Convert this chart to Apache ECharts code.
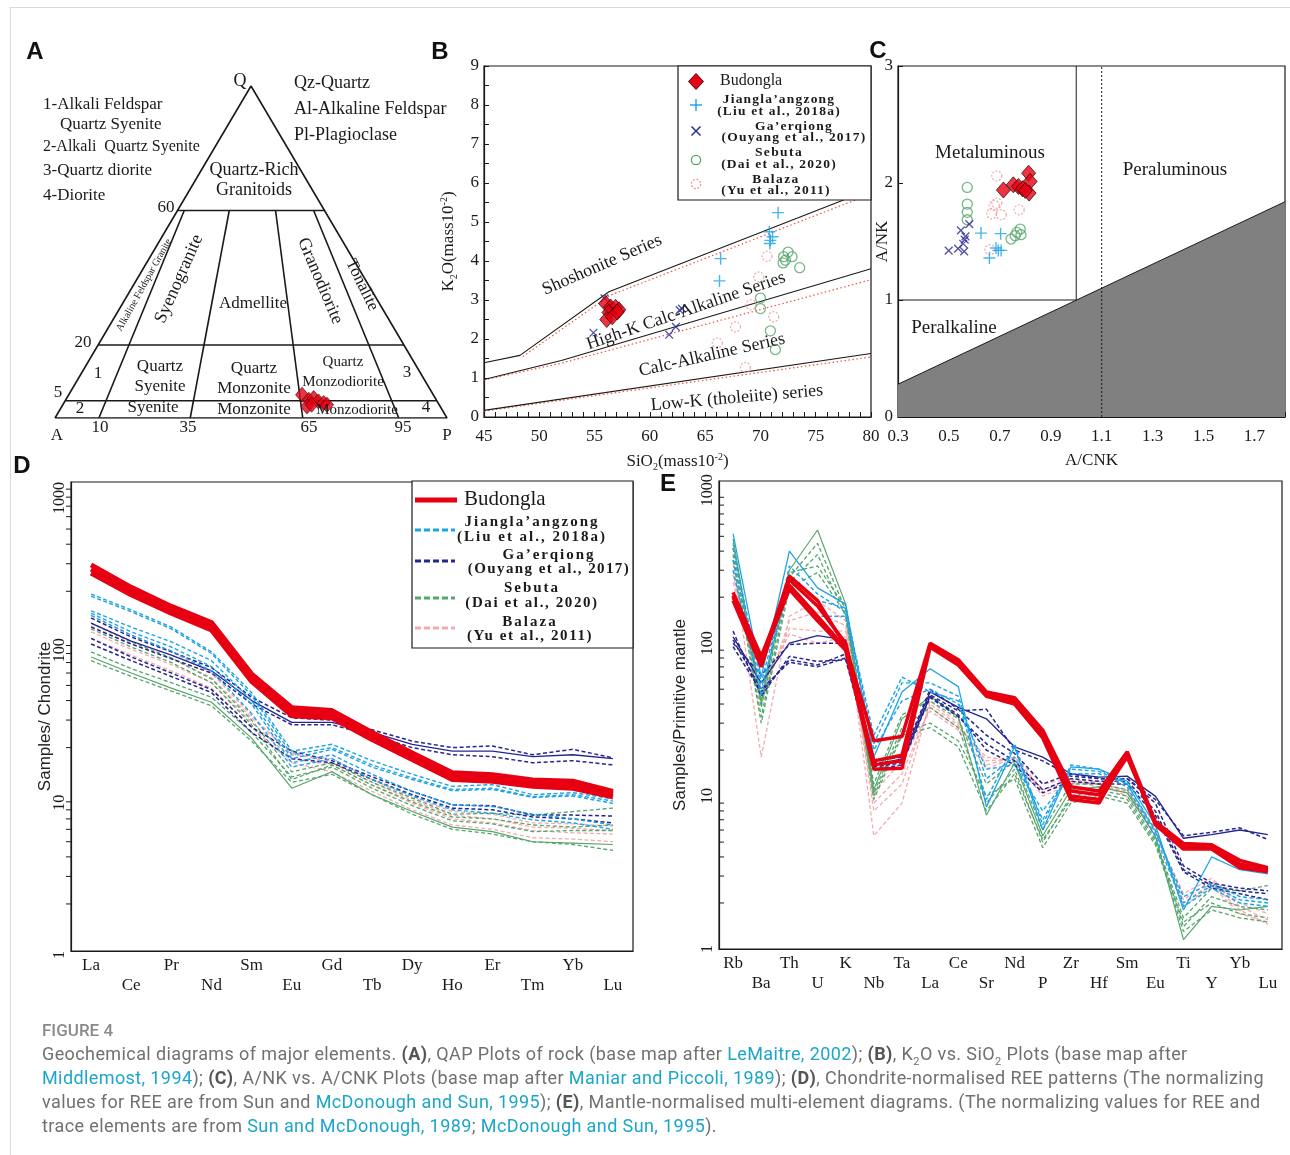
<!DOCTYPE html>
<html lang="en">
<head>
<meta charset="UTF-8">
<title>Figure 4</title>
<script src="https://cdn.jsdelivr.net/npm/echarts@6/dist/echarts.min.js"></script>
<style>
html, body { margin: 0; padding: 0; background: #fff; }
#main { position: absolute; left: 0; top: 0; width: 1290px; height: 1155px; }
#cap { position: absolute; left: 42px; top: 1018px; font-family: Roboto, "Noto Sans", sans-serif; color: #707070; white-space: nowrap; letter-spacing: 0.4px; }
#cap .fig { font-size: 17px; line-height: 24px; font-weight: 500; color: #8a8a8a; letter-spacing: 0; }
#cap .txt { font-size: 18px; line-height: 24px; }
#cap b { color: #555; }
#cap a { color: #1ba6c9; text-decoration: none; }
#cap sub { font-size: 11px; line-height: 0; }
#legtext { position: absolute; left: 0; top: 0; width: 1290px; height: 1155px; pointer-events: none; }
#legtext span { position: absolute; white-space: nowrap; transform: translate(-50%, -50%); font-family: "Liberation Serif", "Times New Roman", serif; font-weight: bold; color: #1a1a1a; line-height: 1; }
</style>
</head>
<body>
<div id="main"></div>
<div id="legtext"></div>
<div id="cap">
  <div class="fig">FIGURE 4</div>
  <div class="txt">Geochemical diagrams of major elements. <b>(A)</b>, QAP Plots of rock (base map after <a>LeMaitre, 2002</a>); <b>(B)</b>, K<sub>2</sub>O vs. SiO<sub>2</sub> Plots (base map after<br><a>Middlemost, 1994</a>); <b>(C)</b>, A/NK vs. A/CNK Plots (base map after <a>Maniar and Piccoli, 1989</a>); <b>(D)</b>, Chondrite-normalised REE patterns (The normalizing<br>values for REE are from Sun and <a>McDonough and Sun, 1995</a>); <b>(E)</b>, Mantle-normalised multi-element diagrams. (The normalizing values for REE and<br>trace elements are from <a>Sun and McDonough, 1989</a>; <a>McDonough and Sun, 1995</a>).</div>
</div>
<script type="text/javascript">
// ---------- A: QAP (Q %, P/(A+P) %) ----------
var qapLevels = [62.5, 22, 5.2];                       // drawn 60 / 20 / 5 lines
var qapDividers = [[4.6, 11.2], [35.2, 34.5], [66.7, 63.2], [92.6, 87.7]]; // P% at Q60 line, P% at base
var qapBudQ = [7.0, 5.5, 6.0, 5.0, 4.5, 3.5, 4.0, 4.0];
var qapBudP = [64.0, 65.6, 67.0, 68.1, 69.4, 64.8, 66.1, 70.2];

// ---------- B: K2O vs SiO2 ----------
var kUpper = [[45, 1.39], [48.25, 1.58], [56.3, 3.21], [80, 5.84]];
var kUpperRed = [[48.5, 1.55], [56.4, 3.12], [80, 5.72]];
var kMid = [[45, 0.96], [52, 1.45], [80, 3.8]];
var kMidRed = [[45, 0.95], [52, 1.38], [80, 3.52]];
var kLow = [[45, 0.17], [80, 1.63]];
var kLowRed = [[45, 0.15], [80, 1.54]];
var bBudongla = [[56.0, 2.91], [56.45, 2.82], [56.9, 2.81], [57.2, 2.75], [56.3, 2.68], [56.1, 2.50], [56.6, 2.57], [57.05, 2.69]];
var bJiangla = [[71.6, 5.24], [70.8, 4.75], [71.1, 4.62], [70.9, 4.53], [70.85, 4.45], [66.4, 4.06], [66.3, 3.49]];
var bGaerqiong = [[54.9, 2.16], [62.7, 2.74], [62.9, 2.78], [62.35, 2.31], [61.75, 2.11], [55.9, 3.04]];
var bSebuta = [[72.5, 4.23], [72.1, 4.11], [72.86, 4.11], [72.26, 4.02], [72.05, 3.95], [73.55, 3.83], [70.0, 3.05], [70.0, 2.78], [70.9, 2.21], [71.35, 1.73]];
var bBalaza = [[70.6, 4.12], [69.85, 3.59], [69.16, 2.88], [71.2, 2.57], [67.74, 2.31], [66.1, 1.90], [68.64, 1.27]];

// ---------- C: A/NK vs A/CNK ----------
var cShade = [[0.3, 0.28], [1.82, 1.84]];
var cBound = [[0.3, 1], [1.0, 1], [1.0, 3]];
var cDotted = [[1.1, 0], [1.1, 3]];
var cBudongla = [[0.714, 1.94], [0.753, 1.985], [0.773, 1.97], [0.789, 1.951], [0.813, 2.084], [0.819, 2.013], [0.815, 1.914], [0.80, 1.936]];
var cJiangla = [[0.626, 1.572], [0.703, 1.567], [0.685, 1.444], [0.694, 1.424], [0.705, 1.424], [0.659, 1.359]];
var cGaerqiong = [[0.499, 1.422], [0.536, 1.439], [0.56, 1.416], [0.562, 1.516], [0.565, 1.544], [0.547, 1.595], [0.58, 1.649], [0.556, 1.481]];
var cSebuta = [[0.572, 1.962], [0.572, 1.82], [0.572, 1.749], [0.572, 1.686], [0.744, 1.521], [0.76, 1.55], [0.78, 1.606], [0.783, 1.558], [0.767, 1.578]];
var cBalaza = [[0.688, 2.061], [0.688, 1.828], [0.678, 1.808], [0.668, 1.737], [0.705, 1.729], [0.776, 1.771], [0.661, 1.43]];

// ---------- D: chondrite-normalised REE ----------
var reeElements = ['La', 'Ce', 'Pr', 'Nd', 'Sm', 'Eu', 'Gd', 'Tb', 'Dy', 'Ho', 'Er', 'Tm', 'Yb', 'Lu'];
var dBudongla = [
  [295, 212, 160, 126, 59, 36, 34.5, 25, 18.5, 13.8, 13.4, 12.4, 12.2, 10.5],
  [277, 201, 153, 120, 56, 34, 32.6, 23.7, 17.6, 13.1, 12.8, 11.9, 11.7, 10.1],
  [262, 190, 145, 113, 53, 32, 31, 22.5, 16.8, 12.5, 12.2, 11.3, 11.0, 9.7]
];
var dJiangla = [
  [192, 152, 118, 82, 45, 19, 21, 16.5, 13.5, 11.3, 11.6, 10.0, 10.3, 9.4],
  [186, 148, 115, 80, 43, 18, 20, 15.5, 12.8, 10.8, 11.0, 9.7, 10.0, 9.1],
  [150, 118, 95, 72, 40, 17, 19.5, 15, 12.5, 10.6, 10.8, 9.6, 9.8, 8.8],
  [145, 110, 88, 66, 38, 16, 18, 13.5, 10.5, 8.6, 8.4, 7.5, 7.0, 6.4],
  [140, 105, 83, 62, 33, 15, 17, 12.5, 9.8, 8.0, 7.6, 6.9, 6.6, 6.0]
];
var dGaerqiong = [
  [135, 102, 82, 65, 42, 31, 30, 26, 22, 20, 20.5, 18, 19.5, 17.2],
  [125, 96, 78, 62, 40, 29, 29, 25, 21, 19, 19, 17.5, 18, 17],
  [118, 92, 74, 60, 38, 28, 28, 24, 20, 18, 17.5, 16, 16.5, 15.5],
  [100, 76, 60, 47, 27, 19, 16.5, 13, 10.5, 8.6, 8.5, 7.4, 7.4, 7.3],
  [92, 72, 57, 45, 25, 17, 16, 12.5, 10, 8.2, 8.0, 7.2, 7.0, 6.6]
];
var dSebuta = [
  [125, 95, 75, 55, 30, 14, 16, 12, 9.5, 7.5, 7.6, 7.4, 7.8, 8.2],
  [115, 88, 70, 52, 28, 12.5, 15.5, 11.5, 9, 7.2, 7, 6.4, 6.2, 6.4],
  [82, 64, 52, 42, 25, 13, 15, 11, 8.5, 6.8, 6.5, 5.8, 5.9, 5.9],
  [76, 60, 48, 39, 23, 11, 14, 10, 7.8, 6.2, 5.8, 5.0, 4.9, 4.8],
  [72, 57, 46, 37, 22, 12, 13.5, 10, 7.5, 6.0, 5.6, 5.0, 4.8, 4.4]
];
var dBalaza = [
  [140, 105, 82, 60, 32, 18, 17, 12.5, 9.6, 7.8, 7.5, 6.6, 6.5, 6.3],
  [120, 92, 74, 56, 31, 18.5, 16, 12, 9.2, 7.4, 7, 6.2, 6.1, 5.9],
  [110, 85, 68, 52, 29, 17, 15.5, 11.5, 8.8, 7.0, 6.6, 5.9, 5.7, 5.6],
  [100, 78, 62, 48, 27, 16, 14, 10.5, 8, 6.4, 6, 5.3, 5.2, 5.0]
];

// ---------- E: primitive-mantle-normalised ----------
var pmElements = ['Rb', 'Ba', 'Th', 'U', 'K', 'Nb', 'Ta', 'La', 'Ce', 'Sr', 'Nd', 'P', 'Zr', 'Hf', 'Sm', 'Eu', 'Ti', 'Y', 'Yb', 'Lu'];
var eBudongla = [
  [200, 75, 275, 190, 95, 23, 24.5, 100, 78, 48, 44, 27, 11.5, 10.8, 19.5, 6.8, 4.9, 4.8, 3.8, 3.4],
  [215, 82, 240, 150, 92, 17, 18.5, 96, 74, 46, 41, 25, 10.8, 10.2, 18.5, 6.6, 4.7, 4.6, 3.6, 3.3],
  [205, 78, 225, 140, 90, 15, 15.2, 94, 72, 45, 40, 24, 9.5, 9.0, 19, 6.5, 4.5, 4.5, 3.4, 3.2],
  [190, 70, 260, 175, 100, 16, 17, 98, 76, 47, 43, 26, 10, 9.5, 18, 6.7, 4.6, 4.7, 3.5, 3.3]
];
var eJiangla = [
  [520, 60, 400, 230, 180, 18, 48, 68, 52, 8.5, 21, 6, 15.5, 15, 12.5, 6.5, 1.8, 4.0, 3.3, 3.1],
  [420, 55, 280, 190, 170, 22, 55, 55, 45, 13, 18, 7, 15, 14.5, 12, 6, 2.0, 2.6, 2.1, 2.0],
  [350, 50, 240, 150, 150, 20, 42, 50, 40, 15, 16, 8, 14, 14, 11.5, 5.5, 1.9, 2.5, 2.0, 1.9],
  [300, 45, 320, 210, 160, 25, 60, 48, 42, 9.5, 22, 6.5, 16, 15, 12, 5.8, 2.2, 2.7, 2.2, 2.1]
];
var eGaerqiong = [
  [110, 55, 100, 112, 105, 16, 17.5, 48, 38, 32, 21, 18, 14, 13.3, 13.5, 10, 5.3, 5.6, 6.0, 5.6],
  [100, 62, 98, 100, 100, 15.5, 16.5, 46, 36, 37, 20, 17, 13.5, 13, 13, 9.5, 5.5, 5.8, 6.2, 5.2],
  [95, 48, 78, 72, 85, 16.5, 17, 44, 33, 22, 17, 11, 13, 12.5, 12.5, 8, 3.3, 2.6, 2.4, 2.3],
  [105, 50, 75, 70, 80, 15, 16, 45, 34, 20, 16, 10.5, 12.5, 12, 12, 7.5, 3.2, 2.5, 2.3, 2.1],
  [120, 45, 82, 76, 78, 17, 18, 50, 37, 25, 19, 12, 14, 13, 13, 9, 3.5, 2.7, 2.5, 2.4]
];
var eSebuta = [
  [480, 42, 300, 550, 180, 11, 32, 45, 33, 7.5, 16.5, 5.5, 11, 11.5, 10.5, 5.5, 1.15, 1.9, 1.8, 1.9],
  [420, 38, 270, 450, 165, 10.5, 28, 38, 28, 9, 15, 5, 10, 11, 10, 5.2, 1.6, 2.5, 2.4, 2.6],
  [380, 33, 250, 380, 150, 10, 26, 30, 23, 10, 13, 4.6, 9, 10, 9, 4.8, 1.5, 2.0, 1.7, 1.6],
  [450, 40, 290, 320, 170, 12, 34, 42, 32, 12, 17, 6, 12, 12, 11, 5.4, 1.4, 2.2, 1.9, 1.8],
  [350, 30, 230, 290, 155, 9.5, 25, 28, 21, 8, 14, 5.2, 9.5, 10.5, 9.5, 5, 1.3, 1.8, 1.6, 1.5]
];
var eBalaza = [
  [330, 18, 150, 190, 140, 5.5, 9, 42, 30, 16, 18, 11, 12.5, 12, 11, 6, 2.1, 2.8, 1.9, 1.55],
  [280, 45, 125, 120, 120, 9, 14, 38, 28, 18, 17, 10, 12, 12.5, 10.5, 6.2, 2.0, 2.7, 1.8, 1.45],
  [250, 50, 115, 100, 110, 10.5, 17, 36, 27, 15, 18, 12, 13, 12, 10, 5.8, 2.3, 2.9, 2.0, 1.7],
  [300, 40, 140, 160, 130, 8, 12, 40, 29, 17, 17.5, 10.5, 12.5, 11.5, 10.8, 6, 1.9, 2.6, 1.7, 1.5]
];
var logMinorTicks = [2, 3, 4, 5, 6, 7, 8, 9, 20, 30, 40, 50, 60, 70, 80, 90, 200, 300, 400, 500, 600, 700, 800, 900];

// two-line legend entries: [x, y, text, font size, letter spacing]
var legendLines = [
  [779, 99, 'Jiangla\u2019angzong', 13.5, 1.2], [779, 111, '(Liu et al., 2018a)', 13.5, 1.2],
  [794, 126, 'Ga\u2019erqiong', 13.5, 1.2], [794, 137, '(Ouyang et al., 2017)', 13.5, 1.2],
  [779, 152, 'Sebuta', 13.5, 1.4], [779, 164, '(Dai et al., 2020)', 13.5, 1.2],
  [776, 179, 'Balaza', 13.5, 1.4], [776, 190, '(Yu et al., 2011)', 13.5, 1.2],
  [532, 521, 'Jiangla\u2019angzong', 15, 2], [532, 536, '(Liu et al., 2018a)', 15, 2],
  [549, 554, 'Ga\u2019erqiong', 15, 2], [549, 568, '(Ouyang et al., 2017)', 15, 1.4],
  [532, 587, 'Sebuta', 15, 2], [532, 602, '(Dai et al., 2020)', 15, 1.6],
  [530, 621, 'Balaza', 15, 2], [530, 635, '(Yu et al., 2011)', 15, 1.6]
];

var SERIF = '"Liberation Serif", "Times New Roman", serif';
var SANS = '"Liberation Sans", Arial, sans-serif';
var INK = '#1a1a1a';
var RED = '#e60012', CYAN = '#1aa3e6', NAVY = '#25268f', GREEN = '#55a56c', PINK = '#f4aaae', PINKDOT = '#f09a9c';
var PLUS = 'path://M0,5.3H12V6.7H0Z M5.3,0H6.7V12H5.3Z';

var chart = echarts.init(document.getElementById('main'));

function toXY(q, p) {
  q = q / 100; p = p / 100;
  return [p * (1 - q) + 0.5 * q, q];
}
function path(gi, data, color, width, type) {
  return { type: 'line', xAxisIndex: gi, yAxisIndex: gi, data: data, symbol: 'none', silent: true,
    lineStyle: { color: color || INK, width: width || 1.2, type: type || 'solid' }, z: 3 };
}
function pts(gi, data, sym, size, style, rot, z) {
  return { type: 'scatter', xAxisIndex: gi, yAxisIndex: gi, data: data, symbol: sym, symbolSize: size,
    symbolRotate: rot || 0, itemStyle: style, silent: true, z: z || 4 };
}
function profiles(gi, samples, color, width, solidIdx, z) {
  return samples.map(function (s, i) {
    return { type: 'line', xAxisIndex: gi, yAxisIndex: gi, data: s, symbol: 'none', silent: true, z: z,
      lineStyle: { color: color, width: i === solidIdx ? width * 0.9 : width, type: i === solidIdx ? 'solid' : [4, 2.5] } };
  });
}
function logTicks(gi, dir) {
  return { type: 'custom', xAxisIndex: gi, yAxisIndex: gi, silent: true, clip: false, z: 6,
    data: logMinorTicks.map(function (v) { return [0, v]; }),
    renderItem: function (params, api) {
      var cs = params.coordSys;
      var y = api.coord([0, api.value(1)])[1];
      return { type: 'line', shape: { x1: cs.x, y1: y, x2: cs.x + dir * 5, y2: y }, style: { stroke: INK, lineWidth: 1 } };
    } };
}
function decade(v) {
  var l = Math.log(v) / Math.LN10;
  return Math.abs(l - Math.round(l)) < 1e-6 ? String(Math.round(v)) : '';
}
function twoRow(v, i) { return i % 2 ? '\n' + v : v; }

var axLine = { show: true, lineStyle: { color: INK, width: 1.2 } };
var lab = { color: INK, fontFamily: SERIF, fontSize: 17 };
function L(extra) { var o = {}; for (var k in lab) o[k] = lab[k]; for (var k2 in extra) o[k2] = extra[k2]; return o; }

function txt(x, y, s, o) {
  o = o || {};
  return { type: 'text', x: x, y: y, rotation: (o.rot || 0) * Math.PI / 180, z: 100, silent: true,
    style: { text: s, fill: o.color || INK, fontSize: o.size || 17, fontFamily: o.family || SERIF,
      fontWeight: o.weight || 'normal', align: o.align || 'center', verticalAlign: 'middle' } };
}
function gline(x1, y1, x2, y2, color, w, dash) {
  return { type: 'line', z: 101, silent: true, shape: { x1: x1, y1: y1, x2: x2, y2: y2 },
    style: { stroke: color, lineWidth: w, lineDash: dash || null } };
}

// ---------- series ----------
var series = [];
// A
series.push(path(0, [toXY(0, 0), toXY(0, 100), toXY(100, 0), toXY(0, 0)], INK, 1.6));
qapLevels.forEach(function (q) { series.push(path(0, [toXY(q, 0), toXY(q, 100)], INK, 1.6)); });
qapDividers.forEach(function (d) { series.push(path(0, [toXY(qapLevels[0], d[0]), toXY(0, d[1])], INK, 1.6)); });
series.push(pts(0, qapBudQ.map(function (q, i) { return toXY(q, qapBudP[i]); }), 'diamond', [13, 15],
  { color: RED, borderColor: '#3a0000', borderWidth: 0.8 }, 0, 5));

// B
series.push(path(1, kUpperRed, '#f0543e', 1.2, [1.5, 2.5]));
series.push(path(1, kMidRed, '#f0543e', 1.2, [1.5, 2.5]));
series.push(path(1, kLowRed, '#f0543e', 1.2, [1.5, 2.5]));
series.push(path(1, kUpper, INK, 1.1));
series.push(path(1, kMid, INK, 1.1));
series.push(path(1, kLow, INK, 1.1));
series.push(pts(1, bBalaza, 'circle', 10, { color: 'rgba(255,255,255,0)', borderColor: PINKDOT, borderWidth: 1.3, borderType: [2, 1.6] }));
series.push(pts(1, bSebuta, 'circle', 10, { color: 'rgba(255,255,255,0)', borderColor: GREEN, borderWidth: 1.3 }));
series.push(pts(1, bJiangla, PLUS, 12, { color: CYAN }));
series.push(pts(1, bGaerqiong, PLUS, 11, { color: NAVY }, 45));
series.push(pts(1, bBudongla, 'diamond', [14, 16], { color: RED, borderColor: '#2a0000', borderWidth: 0.9 }, 0, 5));

// C
var shade = path(2, cShade, INK, 1);
shade.areaStyle = { color: '#808080', opacity: 1 };
shade.z = 2;
series.push(shade);
series.push(path(2, cBound, INK, 1));
series.push(path(2, cDotted, INK, 1, [2, 2]));
series.push(pts(2, cBalaza, 'circle', 10, { color: 'rgba(255,255,255,0)', borderColor: PINKDOT, borderWidth: 1.3, borderType: [2, 1.6] }));
series.push(pts(2, cSebuta, 'circle', 10, { color: 'rgba(255,255,255,0)', borderColor: GREEN, borderWidth: 1.3 }));
series.push(pts(2, cJiangla, PLUS, 12, { color: CYAN }));
series.push(pts(2, cGaerqiong, PLUS, 11, { color: NAVY }, 45));
series.push(pts(2, cBudongla, 'diamond', [14, 16], { color: RED, borderColor: '#2a0000', borderWidth: 0.9 }, 0, 5));

// D
series = series.concat(profiles(3, dBalaza, PINK, 1.3, -1, 3));
series = series.concat(profiles(3, dSebuta, GREEN, 1.3, 3, 3));
series = series.concat(profiles(3, dGaerqiong, NAVY, 1.5, 1, 3));
series = series.concat(profiles(3, dJiangla, CYAN, 1.4, -1, 3));
series = series.concat(profiles(3, dBudongla, RED, 5, 0, 4).map(function (s) { s.lineStyle.type = 'solid'; s.lineStyle.width = 5; return s; }));
series.push(logTicks(3, -1));

// E
series = series.concat(profiles(4, eBalaza, PINK, 1.3, -1, 3));
series = series.concat(profiles(4, eSebuta, GREEN, 1.3, 0, 3));
series = series.concat(profiles(4, eGaerqiong, NAVY, 1.5, 0, 3));
series = series.concat(profiles(4, eJiangla, CYAN, 1.4, 0, 3));
series = series.concat(profiles(4, eBudongla, RED, 3.5, 0, 4).map(function (s) { s.lineStyle.type = 'solid'; s.lineStyle.width = 3.5; return s; }));
series.push(logTicks(4, 1));

// ---------- graphic annotations ----------
var g = [];
g.push(gline(10, 7.5, 1290, 7.5, '#d9d9d9', 1));
g.push(gline(10.5, 7, 10.5, 1155, '#d9d9d9', 1));
g.push(txt(35, 52, 'A', { family: SANS, weight: 'bold', size: 24, color: '#111' }));
g.push(txt(440, 52, 'B', { family: SANS, weight: 'bold', size: 24, color: '#111' }));
g.push(txt(878, 51, 'C', { family: SANS, weight: 'bold', size: 24, color: '#111' }));
g.push(txt(22, 466, 'D', { family: SANS, weight: 'bold', size: 24, color: '#111' }));
g.push(txt(668, 484, 'E', { family: SANS, weight: 'bold', size: 24, color: '#111' }));

// A texts
g.push(txt(240, 81, 'Q', { size: 18 }));
g.push(txt(43, 105, '1-Alkali Feldspar', { align: 'left' }));
g.push(txt(60, 125, 'Quartz Syenite', { align: 'left' }));
g.push(txt(43, 147, '2-Alkali  Quartz Syenite', { align: 'left', size: 16 }));
g.push(txt(43, 171, '3-Quartz diorite', { align: 'left' }));
g.push(txt(43, 196, '4-Diorite', { align: 'left' }));
g.push(txt(294, 83, 'Qz-Quartz', { align: 'left', size: 18 }));
g.push(txt(294, 109, 'Al-Alkaline Feldspar', { align: 'left', size: 18 }));
g.push(txt(294, 135, 'Pl-Plagioclase', { align: 'left', size: 18 }));
g.push(txt(254, 170, 'Quartz-Rich', { size: 18 }));
g.push(txt(254, 190, 'Granitoids', { size: 18 }));
g.push(txt(166, 208, '60'));
g.push(txt(144, 285, 'Alkaline Feldspar Granite', { size: 10, rot: 61 }));
g.push(txt(179, 279, 'Syenogranite', { size: 18, rot: 66 }));
g.push(txt(253, 304, 'Admellite'));
g.push(txt(320, 281, 'Granodiorite', { size: 18, rot: -67 }));
g.push(txt(362, 285, 'Tonalite', { size: 17, rot: -64 }));
g.push(txt(83, 343, '20'));
g.push(txt(98, 374, '1'));
g.push(txt(160, 367, 'Quartz'));
g.push(txt(160, 387, 'Syenite'));
g.push(txt(254, 369, 'Quartz'));
g.push(txt(254, 389, 'Monzonite'));
g.push(txt(343, 362, 'Quartz', { size: 15 }));
g.push(txt(343, 382, 'Monzodiorite', { size: 15 }));
g.push(txt(407, 373, '3'));
g.push(txt(58, 393, '5'));
g.push(txt(80, 409, '2'));
g.push(txt(153, 408, 'Syenite'));
g.push(txt(254, 410, 'Monzonite'));
g.push(txt(357, 410, 'Monzodiorite', { size: 15 }));
g.push(txt(426, 408, '4'));
g.push(txt(57, 436, 'A'));
g.push(txt(100, 428, '10'));
g.push(txt(188, 428, '35'));
g.push(txt(309, 428, '65'));
g.push(txt(403, 428, '95'));
g.push(txt(447, 436, 'P'));

// B field names
g.push(txt(602, 265, 'Shoshonite Series', { size: 18, rot: 23.5 }));
g.push(txt(686, 311, 'High-K Calc-Alkaline Series', { size: 18, rot: 19 }));
g.push(txt(712, 355, 'Calc-Alkaline Series', { size: 18, rot: 12.7 }));
g.push(txt(737, 398, 'Low-K (tholeiite) series', { size: 18, rot: 5 }));
// B legend
g.push({ type: 'rect', z: 99, silent: true, shape: { x: 678, y: 66, width: 193, height: 134 }, style: { fill: '#fff', stroke: INK, lineWidth: 1.2 } });
g.push({ type: 'polygon', z: 101, silent: true, shape: { points: [[688.5, 81.5], [696, 73.5], [703.5, 81.5], [696, 89.5]] }, style: { fill: RED, stroke: '#2a0000', lineWidth: 0.9 } });
g.push(gline(690, 105, 702, 105, CYAN, 1.4));
g.push(gline(696, 99, 696, 111, CYAN, 1.4));
g.push(gline(691.5, 126.5, 700.5, 135.5, NAVY, 1.4));
g.push(gline(691.5, 135.5, 700.5, 126.5, NAVY, 1.4));
g.push({ type: 'circle', z: 101, silent: true, shape: { cx: 696, cy: 160, r: 4.6 }, style: { fill: 'none', stroke: GREEN, lineWidth: 1.3 } });
g.push({ type: 'circle', z: 101, silent: true, shape: { cx: 696, cy: 184, r: 4.6 }, style: { fill: 'none', stroke: PINKDOT, lineWidth: 1.3, lineDash: [2, 1.6] } });
g.push(txt(720, 81, 'Budongla', { align: 'left', size: 16 }));

// C field names
g.push(txt(990, 153, 'Metaluminous', { size: 19 }));
g.push(txt(1175, 170, 'Peraluminous', { size: 19 }));
g.push(txt(954, 328, 'Peralkaline', { size: 19 }));

// D legend
g.push({ type: 'rect', z: 99, silent: true, shape: { x: 412, y: 481, width: 221, height: 167 }, style: { fill: '#fff', stroke: INK, lineWidth: 1.2 } });
g.push(gline(415, 500, 457, 500, RED, 5));
g.push(gline(415, 530, 455, 530, CYAN, 3, [6, 3]));
g.push(gline(415, 561, 455, 561, NAVY, 3, [6, 3]));
g.push(gline(415, 598, 455, 598, GREEN, 3, [6, 3]));
g.push(gline(415, 628, 455, 628, PINK, 3, [6, 3]));
g.push(txt(464, 499, 'Budongla', { align: 'left', size: 21 }));

// ---------- axes ----------
function gridOf(l, t, w, h, show) {
  return { left: l, top: t, width: w, height: h, show: show, borderColor: INK, borderWidth: 1.2,
    backgroundColor: 'transparent', containLabel: false, outerBoundsMode: 'none' };
}
var hidden = { show: false };
var tick = { inside: true, length: 5, lineStyle: { color: INK } };
var richName = { n: L({ lineHeight: 20 }), s: L({ fontSize: 10, lineHeight: 10, verticalAlign: 'bottom' }), p: L({ fontSize: 10, lineHeight: 10, verticalAlign: 'top' }) };

var option = {
  animation: false,
  backgroundColor: '#fff',
  grid: [
    gridOf(55, 86, 392, 332, false),
    gridOf(484, 66, 387, 351, true),
    gridOf(898, 66, 387, 351, true),
    gridOf(71, 482, 562, 469, true),
    gridOf(719, 481, 563, 468, true)
  ],
  xAxis: [
    { gridIndex: 0, type: 'value', min: 0, max: 1, show: false },
    { gridIndex: 1, type: 'value', min: 45, max: 80, interval: 5, axisLine: axLine, axisTick: tick,
      minorTick: { show: true, splitNumber: 5, length: 5, lineStyle: { color: INK } }, splitLine: hidden, minorSplitLine: hidden,
      axisLabel: L({ margin: 11 }),
      name: '{n|SiO}{s|2}{n|(mass10}{p|-2}{n|)}', nameLocation: 'middle', nameGap: 35, nameMoveOverlap: false,
      nameTextStyle: { rich: richName } },
    { gridIndex: 2, type: 'value', min: 0.3, max: 1.82, interval: 0.2, axisLine: axLine, axisTick: tick, splitLine: hidden,
      axisLabel: L({ margin: 11, formatter: function (v) { var k = Math.round(v * 10); return (k % 2 === 1 && Math.abs(v * 10 - k) < 1e-6) ? (k / 10).toFixed(1) : ''; } }),
      name: 'A/CNK', nameLocation: 'middle', nameGap: 35, nameMoveOverlap: false, nameTextStyle: L({}) },
    { gridIndex: 3, type: 'category', data: reeElements, boundaryGap: true, axisLine: axLine,
      axisTick: { alignWithLabel: true, inside: true, length: 5, lineStyle: { color: INK } },
      axisLabel: L({ interval: 0, margin: 5, lineHeight: 20, formatter: twoRow, hideOverlap: false }) },
    { gridIndex: 4, type: 'category', data: pmElements, boundaryGap: true, axisLine: axLine,
      axisTick: { alignWithLabel: true, inside: true, length: 5, lineStyle: { color: INK } },
      axisLabel: L({ interval: 0, margin: 5, lineHeight: 20, formatter: twoRow, hideOverlap: false }) }
  ],
  yAxis: [
    { gridIndex: 0, type: 'value', min: 0, max: 1, show: false },
    { gridIndex: 1, type: 'value', min: 0, max: 9, interval: 1, axisLine: axLine, axisTick: tick,
      minorTick: { show: true, splitNumber: 2, length: 5, lineStyle: { color: INK } }, splitLine: hidden, minorSplitLine: hidden,
      axisLabel: L({ margin: 5 }),
      name: '{n|K}{s|2}{n|O(mass10}{p|-2}{n|)}', nameLocation: 'middle', nameGap: 25, nameRotate: 90, nameMoveOverlap: false,
      nameTextStyle: { rich: richName } },
    { gridIndex: 2, type: 'value', min: 0, max: 3, interval: 1, axisLine: axLine, axisTick: tick, splitLine: hidden,
      axisLabel: L({ margin: 5 }),
      name: 'A/NK', nameLocation: 'middle', nameGap: 7, nameRotate: 90, nameMoveOverlap: false, nameTextStyle: L({}) },
    { gridIndex: 3, type: 'log', logBase: 10, min: 1, max: 1000, axisLine: axLine,
      axisTick: { inside: false, length: 7, lineStyle: { color: INK } }, splitLine: hidden, minorTick: hidden,
      axisLabel: L({ rotate: 90, margin: 3, fontSize: 16, align: 'right', formatter: decade }),
      name: 'Samples/ Chondrite', nameLocation: 'middle', nameGap: 17, nameRotate: 90, nameMoveOverlap: false,
      nameTextStyle: { fontFamily: SANS, fontSize: 17, color: '#222' } },
    { gridIndex: 4, type: 'log', logBase: 10, min: 1, max: 1150, axisLine: axLine,
      axisTick: { inside: true, length: 8, lineStyle: { color: INK } }, splitLine: hidden, minorTick: hidden,
      axisLabel: L({ rotate: 90, margin: 3, fontSize: 16, formatter: decade }),
      name: 'Samples/Primitive mantle', nameLocation: 'middle', nameGap: 30, nameRotate: 90, nameMoveOverlap: false,
      nameTextStyle: { fontFamily: SANS, fontSize: 17, color: '#222' } }
  ],
  graphic: { elements: g },
  series: series
};

chart.setOption(option);

// legend entry texts (letter-spaced, as in the original legends)
var holder = document.getElementById('legtext');
legendLines.forEach(function (l) {
  var s = document.createElement('span');
  s.textContent = l[2];
  s.style.left = l[0] + 'px';
  s.style.top = l[1] + 'px';
  s.style.fontSize = l[3] + 'px';
  s.style.letterSpacing = l[4] + 'px';
  holder.appendChild(s);
});
</script>
</body>
</html>
